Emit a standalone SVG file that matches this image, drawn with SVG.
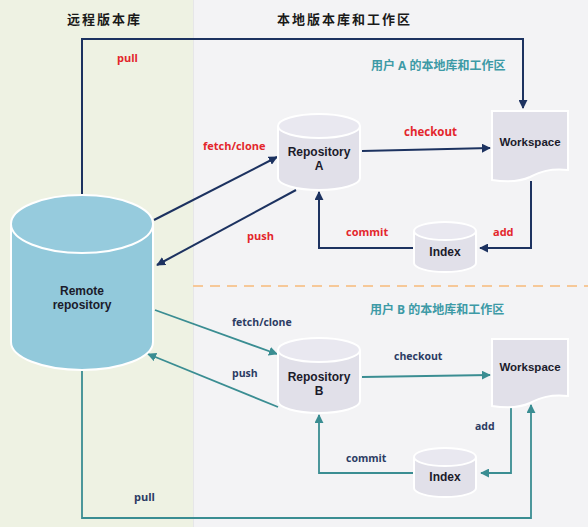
<svg xmlns="http://www.w3.org/2000/svg" width="588" height="527" viewBox="0 0 588 527">
<defs>
<style>
.title{font-family:"Noto Sans CJK SC","Noto Sans",sans-serif;font-weight:700;font-size:13px;letter-spacing:2px;fill:#1a1a1a}
.sub{font-family:"Open Sans","Noto Sans CJK SC",sans-serif;font-weight:700;font-size:12px;fill:#3d9aa6}
.lbl{font-family:"Open Sans",sans-serif;font-weight:700;font-size:11px}
.red{fill:#e3262c}
.blue{fill:#2b3b63}
.node{font-family:"Liberation Sans",Arial,sans-serif;font-weight:700;font-size:12px;fill:#1b1b2b;text-anchor:middle}
.cyl{fill:#e1e0e9;stroke:#ffffff;stroke-width:2}
.cyltop{fill:#e9e8f0;stroke:#ffffff;stroke-width:2}
.rem{fill:#92c9db;stroke:#ffffff;stroke-width:2}
.remtop{fill:#96cbdd;stroke:#ffffff;stroke-width:2}
.navy{fill:none;stroke:#1c3260;stroke-width:2}
.teal{fill:none;stroke:#3a8d92;stroke-width:1.8}
</style>
<marker id="an" viewBox="0 0 10 10" refX="9" refY="5" markerWidth="9" markerHeight="9" markerUnits="userSpaceOnUse" orient="auto">
<path d="M0,0 L10,5 L0,10 Z" fill="#1c3260"/>
</marker>
<marker id="at" viewBox="0 0 10 10" refX="9" refY="5" markerWidth="9" markerHeight="9" markerUnits="userSpaceOnUse" orient="auto">
<path d="M0,0 L10,5 L0,10 Z" fill="#3a8d92"/>
</marker>
</defs>

<g id="background">
<rect x="0" y="0" width="588" height="527" fill="#f3f3f5"/>
<rect x="0" y="0" width="193" height="527" fill="#eef2e3"/>
<line x1="193.5" y1="0" x2="193.5" y2="527" stroke="#e6e6e8" stroke-width="1"/>
<line x1="193" y1="286" x2="588" y2="286" stroke="#f6c898" stroke-width="2" stroke-dasharray="10,7"/>
</g>

<g id="titles">
<text class="title" x="67" y="24">远程版本库</text>
<text class="title" x="277" y="24">本地版本库和工作区</text>
<text class="sub" x="371" y="70">用户 A 的本地库和工作区</text>
<text class="sub" x="370" y="314">用户 B 的本地库和工作区</text>
</g>

<g id="connectors">
<!-- A side -->
<polyline class="navy" points="82,195 82,39 523,39 523,108" marker-end="url(#an)"/>
<line class="navy" x1="154" y1="220" x2="277" y2="157" marker-end="url(#an)"/>
<line class="navy" x1="296" y1="190" x2="157" y2="265" marker-end="url(#an)"/>
<line class="navy" x1="362" y1="151" x2="490" y2="148" marker-end="url(#an)"/>
<polyline class="navy" points="531,181 531,248 480,248" marker-end="url(#an)"/>
<polyline class="navy" points="414,248 319,248 319,192" marker-end="url(#an)"/>
<!-- B side -->
<polyline class="teal" points="82,370 82,518 531,518 531,405" marker-end="url(#at)"/>
<line class="teal" x1="155" y1="310" x2="277" y2="354" marker-end="url(#at)"/>
<line class="teal" x1="278" y1="407" x2="148" y2="354" marker-end="url(#at)"/>
<line class="teal" x1="362" y1="377" x2="490" y2="375" marker-end="url(#at)"/>
<polyline class="teal" points="511,405 511,473 481,473" marker-end="url(#at)"/>
<polyline class="teal" points="414,473 319,473 319,415" marker-end="url(#at)"/>
</g>

<g id="connector-labels">
<text class="lbl red" x="117" y="62">pull</text>
<text class="lbl red" x="203" y="150">fetch/clone</text>
<text class="lbl red" x="247" y="240">push</text>
<text class="lbl red" x="404" y="136" style="font-size:11.5px">checkout</text>
<text class="lbl red" x="346" y="236">commit</text>
<text class="lbl red" x="493" y="236">add</text>
<text class="lbl blue" x="134" y="501">pull</text>
<text class="lbl blue" x="232" y="326" style="font-size:10.5px">fetch/clone</text>
<text class="lbl blue" x="232" y="377" style="font-size:10.5px">push</text>
<text class="lbl blue" x="394" y="360" style="font-size:10.5px">checkout</text>
<text class="lbl blue" x="346" y="462" style="font-size:10.5px">commit</text>
<text class="lbl blue" x="475" y="430" style="font-size:10.5px">add</text>
</g>

<g id="remote">
<path class="rem" d="M11,224 V342 A71,28 0 0 0 153,342 V224"/>
<ellipse class="remtop" cx="82" cy="224" rx="71" ry="29"/>
<text class="node" x="82" y="295">Remote</text>
<text class="node" x="82" y="309">repository</text>
</g>

<g id="repoA">
<path class="cyl" d="M278,126 V178 A41,12 0 0 0 360,178 V126"/>
<ellipse class="cyltop" cx="319" cy="126" rx="41" ry="12"/>
<text class="node" x="319" y="156">Repository</text>
<text class="node" x="319" y="170">A</text>
</g>

<g id="workspaceA">
<path class="cyl" d="M492,111 H568 V170 C550,168 540,172 530,177 C519,182 505,182 492,180 Z"/>
<text class="node" x="530" y="146" style="font-size:11.5px">Workspace</text>
</g>

<g id="indexA">
<path class="cyl" d="M414,231 V263 A31,9 0 0 0 476,263 V231"/>
<ellipse class="cyltop" cx="445" cy="231" rx="31" ry="9"/>
<text class="node" x="445" y="256">Index</text>
</g>

<g id="repoB">
<path class="cyl" d="M278,350 V401 A41,12 0 0 0 360,401 V350"/>
<ellipse class="cyltop" cx="319" cy="350" rx="41" ry="12"/>
<text class="node" x="319" y="381">Repository</text>
<text class="node" x="319" y="395">B</text>
</g>

<g id="workspaceB">
<path class="cyl" d="M492,339 H568 V396 C550,394 540,398 530,403 C519,408 505,408 492,406 Z"/>
<text class="node" x="530" y="371" style="font-size:11.5px">Workspace</text>
</g>

<g id="indexB">
<path class="cyl" d="M414,457 V488 A31,9 0 0 0 476,488 V457"/>
<ellipse class="cyltop" cx="445" cy="457" rx="31" ry="9"/>
<text class="node" x="445" y="481">Index</text>
</g>
</svg>
